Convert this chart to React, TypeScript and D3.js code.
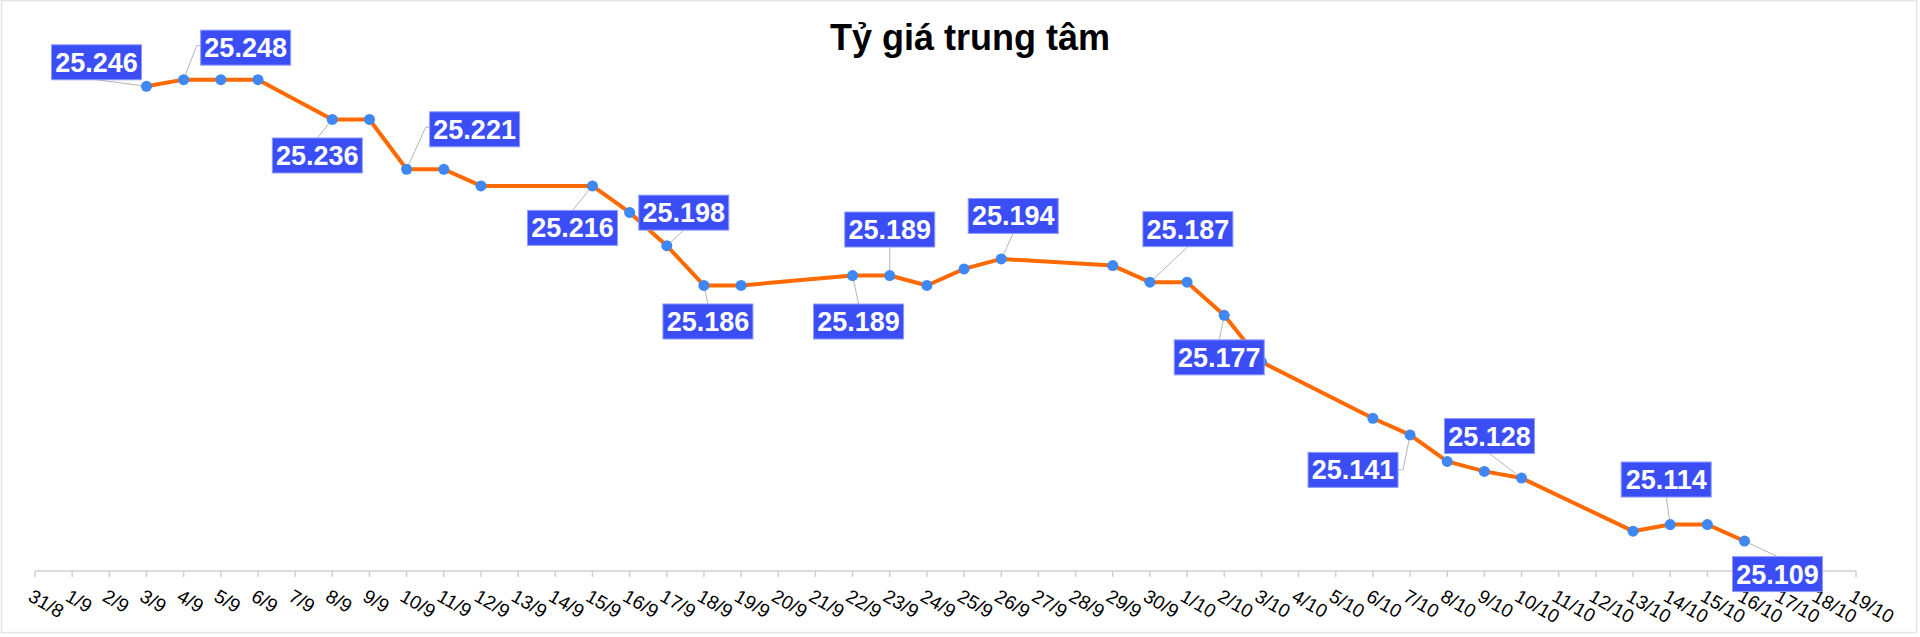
import React from 'react';
import * as d3 from 'd3';

// ---------- DATA ----------
const categories: string[] = [
  '31/8',
  '1/9','2/9','3/9','4/9','5/9','6/9','7/9','8/9','9/9','10/9',
  '11/9','12/9','13/9','14/9','15/9','16/9','17/9','18/9','19/9','20/9',
  '21/9','22/9','23/9','24/9','25/9','26/9','27/9','28/9','29/9','30/9',
  '1/10','2/10','3/10','4/10','5/10','6/10','7/10','8/10','9/10','10/10',
  '11/10','12/10','13/10','14/10','15/10','16/10','17/10','18/10','19/10',
];

const rateDates: string[] = [
  '3/9','4/9','5/9','6/9',
  '8/9','9/9','10/9','11/9','12/9',
  '15/9','16/9','17/9','18/9','19/9',
  '22/9','23/9','24/9','25/9','26/9',
  '29/9','30/9','1/10','2/10','3/10',
  '6/10','7/10','8/10','9/10','10/10',
  '13/10','14/10','15/10','16/10',
];

const rateValues: number[] = [
  25246, 25248, 25248, 25248,
  25236, 25236, 25221, 25221, 25216,
  25216, 25208, 25198, 25186, 25186,
  25189, 25189, 25186, 25191, 25194,
  25192, 25187, 25187, 25177, 25163,
  25146, 25141, 25133, 25130, 25128,
  25112, 25114, 25114, 25109,
];

const annotatedDates: string[] = [
  '3/9','4/9','8/9','10/9','15/9','17/9','18/9','23/9',
  '22/9','26/9','30/9','2/10','7/10','10/10','14/10','16/10',
];

const title = 'Tỷ giá trung tâm';

// ---------- LAYOUT (label placement relative to its point) ----------
type Attach = 'top' | 'bottom' | 'left' | 'right';
const labelPlacement: { dx: number; dy: number; attach: Attach }[] = [
  { dx: -50, dy: -24, attach: 'bottom' },
  { dx: 62, dy: -32, attach: 'left' },
  { dx: -15, dy: 36, attach: 'top' },
  { dx: 68, dy: -40, attach: 'left' },
  { dx: -20, dy: 42, attach: 'top' },
  { dx: 17, dy: -33, attach: 'bottom' },
  { dx: 4, dy: 36, attach: 'top' },
  { dx: 0, dy: -46, attach: 'bottom' },
  { dx: 6, dy: 46, attach: 'top' },
  { dx: 12, dy: -43, attach: 'bottom' },
  { dx: 38, dy: -53, attach: 'bottom' },
  { dx: -5, dy: 42, attach: 'top' },
  { dx: -57, dy: 35, attach: 'right' },
  { dx: -32, dy: -42, attach: 'bottom' },
  { dx: -4, dy: -45, attach: 'bottom' },
  { dx: 33, dy: 33, attach: 'top' },
];

const W = 1920;
const H = 637;
const FONT = '"Liberation Sans", Arial, Helvetica, sans-serif';

const vnFormat = d3.formatLocale({
  decimal: ',',
  thousands: '.',
  grouping: [3],
  currency: ['', ' ₫'],
}).format(',d');

export default function App() {
  const axisY = 571;
  const x = d3.scalePoint<string>().domain(categories).range([35, 1856]);
  const y = d3.scaleLinear().domain([25100, 25250]).range([axisY, axisY - 150 * 3.32]);

  const pts = rateDates.map((d, i) => ({ d, v: rateValues[i], px: x(d) as number, py: y(rateValues[i]) }));

  const line = d3
    .line<{ px: number; py: number }>()
    .x((p) => p.px)
    .y((p) => p.py);

  const boxW = 90;
  const boxH = 35;

  const labels = annotatedDates.map((d, i) => {
    const idx = rateDates.indexOf(d);
    const p = pts[idx];
    const pl = labelPlacement[i];
    const cx = p.px + pl.dx;
    const cy = p.py + pl.dy;
    const left = cx - boxW / 2;
    const right = cx + boxW / 2;
    const top = cy - boxH / 2;
    const bottom = cy + boxH / 2;
    let leader: [number, number][];
    if (pl.attach === 'top') leader = [[p.px, p.py], [cx, top]];
    else if (pl.attach === 'bottom') leader = [[p.px, p.py], [cx, bottom]];
    else if (pl.attach === 'left') leader = [[p.px, p.py], [left - 4, cy - 2], [left, cy - 2]];
    else leader = [[p.px, p.py], [right + 5, cy], [right, cy]];
    return { key: d + i, text: vnFormat(p.v), cx, cy, left, top, leader };
  });

  return (
    <svg
      width={W}
      height={H}
      style={{ position: 'absolute', left: 0, top: 0, background: '#fff' }}
      fontFamily={FONT}
    >
      <rect x={1.5} y={0.5} width={1915} height={632} fill="#fff" stroke="#e4e4e4" strokeWidth={1.5} />

      <text x={970} y={50} textAnchor="middle" fontSize={36} fontWeight="bold" fill="#000">
        {title}
      </text>

      {/* x axis */}
      <line x1={x(categories[0])} x2={x(categories[categories.length - 1])} y1={axisY} y2={axisY} stroke="#cfcfcf" strokeWidth={1.5} />
      {categories.map((c) => (
        <g key={c} transform={`translate(${x(c)},0)`}>
          <line y1={axisY} y2={axisY + 6} stroke="#cfcfcf" strokeWidth={1.5} />
          <text
            transform={`translate(-8,${axisY + 29}) rotate(30)`}
            fontSize={19}
            fill="#000"
            textAnchor="start"
          >
            {c}
          </text>
        </g>
      ))}

      {/* series line */}
      <path d={line(pts) as string} fill="none" stroke="#ff6a00" strokeWidth={4} strokeLinejoin="round" strokeLinecap="round" />

      {/* leaders */}
      {labels.map((l) => (
        <polyline
          key={'ld' + l.key}
          points={l.leader.map((q) => q.join(',')).join(' ')}
          fill="none"
          stroke="#b5b5b5"
          strokeWidth={1}
        />
      ))}

      {/* points */}
      {pts.map((p) => (
        <circle key={'pt' + p.d} cx={p.px} cy={p.py} r={5.5} fill="#3f87f3" />
      ))}

      {/* labels */}
      {labels.map((l) => (
        <g key={'lb' + l.key}>
          <rect x={l.left} y={l.top} width={boxW} height={boxH} fill="#3b4ef6" stroke="#8d9bff" strokeWidth={1} />
          <text x={l.cx} y={l.cy + 9.5} textAnchor="middle" fontSize={27} fontWeight="bold" fill="#fff">
            {l.text}
          </text>
        </g>
      ))}
    </svg>
  );
}
